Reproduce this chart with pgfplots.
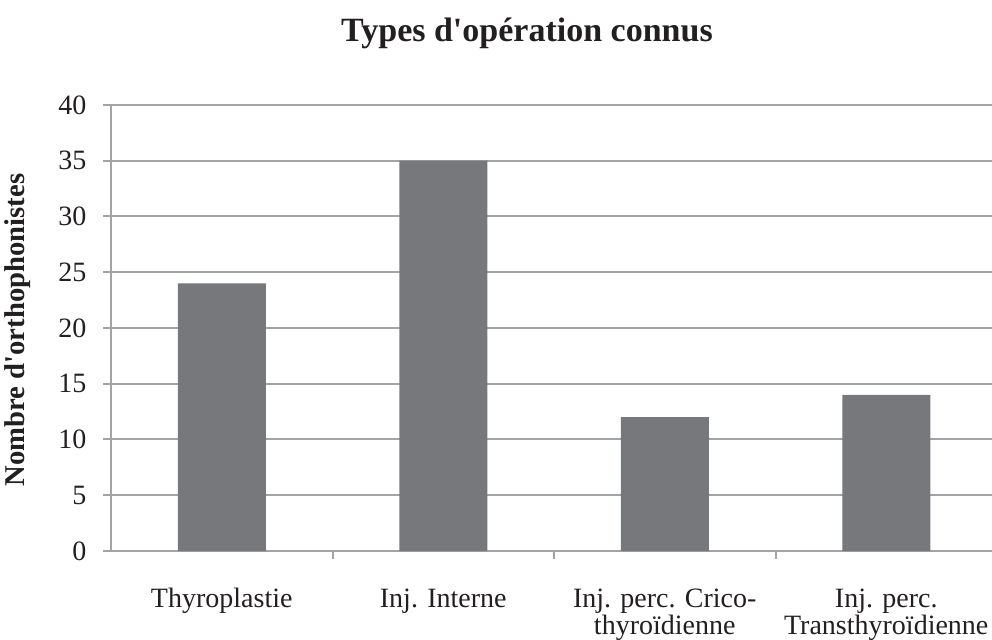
\documentclass[border=0pt]{standalone}
\usepackage{pgfplots}
\pgfplotsset{compat=1.18}
\usepackage{fontspec}
\setmainfont{Liberation Serif}
\definecolor{barc}{RGB}{119,120,124}
\definecolor{gridc}{RGB}{163,163,167}
\definecolor{txt}{RGB}{35,31,32}
\newcommand\tl{\rule{0pt}{17pt}}
\begin{document}
\begin{tikzpicture}
\useasboundingbox (0,0) rectangle (744pt,479.25pt);
\begin{axis}[
  at={(83.25pt,66pt)}, anchor=south west,
  scale only axis, width=664.5pt, height=334.5pt,
  xmin=-0.5, xmax=3.5, ymin=0, ymax=40,
  axis x line*=bottom, axis y line*=left,
  axis line style={gridc, line width=1.5pt},
  ytick={0,5,...,40},
  ymajorgrids, grid style={gridc, line width=1.5pt},
  tick style={gridc, line width=1.5pt},
  tick align=outside, major tick length=6pt,
  xtick={0.5,1.5,2.5},
  xticklabels={},
  extra x ticks={0,1,2,3},
  extra x tick labels={{\tl Thyroplastie}, {\tl Inj. Interne}, {\tl Inj. perc. Crico-\\thyroïdienne}, {\tl Inj. perc.\\Transthyroïdienne}},
  extra x tick style={major tick length=0pt, grid=none},
  ticklabel style={font=\fontsize{21}{18.5}\selectfont, text=txt},
  xticklabel style={align=center, anchor=north, yshift=-22.2pt},
  yticklabel style={xshift=-9pt},
  /pgf/number format/assume math mode=true,
  clip=false,
]
\addplot[ybar, bar width=66pt, fill=barc, draw=none] coordinates {(0,24) (1,35) (2,12) (3,14)};
\end{axis}
\node[font=\fontsize{25.5}{26}\bfseries\selectfont, text=txt] at (395.25pt,454.5pt) {Types d\textquotesingle opération connus};
\node[font=\fontsize{21.5}{22}\bfseries\selectfont, text=txt, rotate=90] at (13.5pt,231.75pt) {Nombre d\textquotesingle orthophonistes};
\end{tikzpicture}
\end{document}
